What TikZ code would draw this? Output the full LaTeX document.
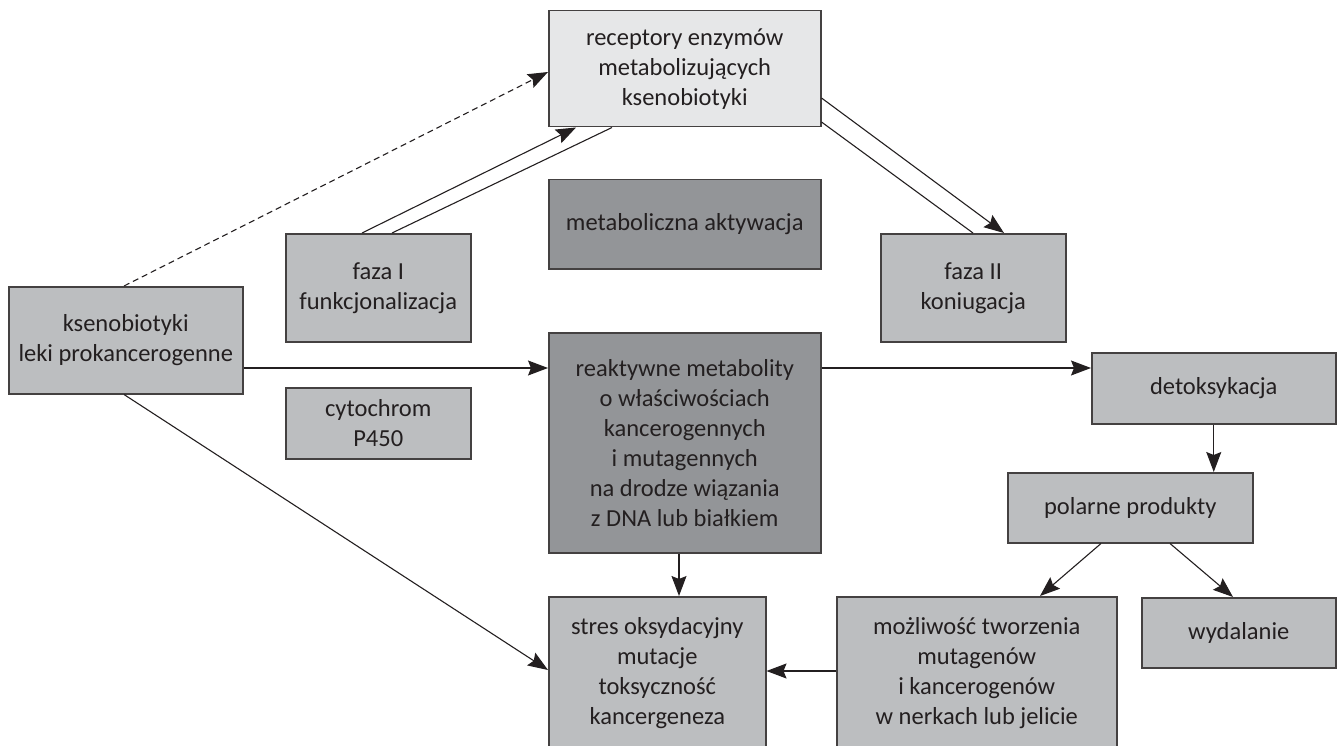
\documentclass[tikz,border=0pt]{standalone}
\usepackage{fontspec}
\setmainfont{Carlito}
\usetikzlibrary{arrows.meta,calc}
\definecolor{boxlight}{RGB}{230,231,232}
\definecolor{boxmid}{RGB}{188,190,192}
\definecolor{boxdark}{RGB}{147,149,152}
\definecolor{ink}{RGB}{35,31,32}
\begin{document}
\begin{tikzpicture}[x=1pt,y=1pt,
  box/.style={draw=ink!85, line width=1.5pt, anchor=north west, inner sep=0pt,
    align=center, text=ink, font=\fontsize{24.5}{30}\selectfont},
  light/.style={box, fill=boxlight},
  mid/.style={box, fill=boxmid},
  dark/.style={box, fill=boxdark},
  conn/.style={draw=ink, line width=1.1pt},
  arr/.style={conn, -{Stealth[length=20pt,width=15pt,inset=3pt]}}
]
\useasboundingbox (0,0) rectangle (1338,-746);

\node[light, minimum width=272pt, minimum height=116pt] (rec) at (548,-10)
  {receptory enzymów\\metabolizujących\\ksenobiotyki};
\node[dark, minimum width=272pt, minimum height=89pt] (met) at (548,-179)
  {metaboliczna aktywacja};
\node[mid, minimum width=185pt, minimum height=108pt] (f1) at (285,-233)
  {faza I\\funkcjonalizacja};
\node[mid, minimum width=185pt, minimum height=108pt] (f2) at (880,-233)
  {faza II\\koniugacja};
\node[mid, minimum width=234pt, minimum height=107pt] (ks) at (8,-286)
  {ksenobiotyki\\leki prokancerogenne};
\node[dark, minimum width=272pt, minimum height=220pt] (re) at (548,-332)
  {reaktywne metabolity\\o właściwościach\\kancerogennych\\i mutagennych\\na drodze wiązania\\z DNA lub białkiem};
\node[mid, minimum width=185pt, minimum height=71pt] (cy) at (285,-387)
  {cytochrom\\P450};
\node[mid, minimum width=244pt, minimum height=71pt] (de) at (1091,-352)
  {detoksykacja};
\node[mid, minimum width=245pt, minimum height=70pt] (po) at (1007,-472)
  {polarne produkty};
\node[mid, minimum width=217pt, minimum height=152pt] (st) at (548,-596)
  {stres oksydacyjny\\mutacje\\toksyczność\\kancergeneza};
\node[mid, minimum width=280pt, minimum height=152pt] (mo) at (836,-596)
  {możliwość tworzenia\\mutagenów\\i kancerogenów\\w nerkach lub jelicie};
\node[mid, minimum width=194pt, minimum height=70pt] (wy) at (1141,-597)
  {wydalanie};

% connectors
\draw[arr, dash pattern=on 6pt off 4pt] ($(ks.north west)+(116,0)$) -- ($(rec.north west)+(0,-62)$);
\draw[arr] ($(f1.north west)+(77,0)$) -- ($(rec.south west)+(28,0)$);
\draw[conn] ($(f1.north west)+(107,0)$) -- ($(rec.south west)+(64,0)$);
\draw[arr] ($(rec.north east)+(0,-88)$) -- ($(f2.north west)+(124,0)$);
\draw[conn] ($(rec.north east)+(0,-112)$) -- ($(f2.north west)+(93,0)$);
\draw[arr] ($(ks.north east)+(0,-82)$) -- ($(re.north west)+(0,-36)$);
\draw[arr] ($(re.north east)+(0,-36)$) -- ($(de.north west)+(0,-16)$);
\draw[arr] ($(ks.south west)+(116,0)$) -- ($(st.north west)+(0,-74)$);
\draw[arr] ($(re.south west)+(131,0)$) -- ($(st.north west)+(131,0)$);
\draw[arr] (de.south) -- (de.south |- po.north);
\draw[arr] ($(po.south west)+(94,0)$) -- ($(mo.north west)+(204,0)$);
\draw[arr] ($(po.south west)+(163,0)$) -- ($(wy.north west)+(92,0)$);
\draw[arr] ($(mo.north west)+(0,-75)$) -- ($(st.north east)+(0,-75)$);
\end{tikzpicture}
\end{document}
